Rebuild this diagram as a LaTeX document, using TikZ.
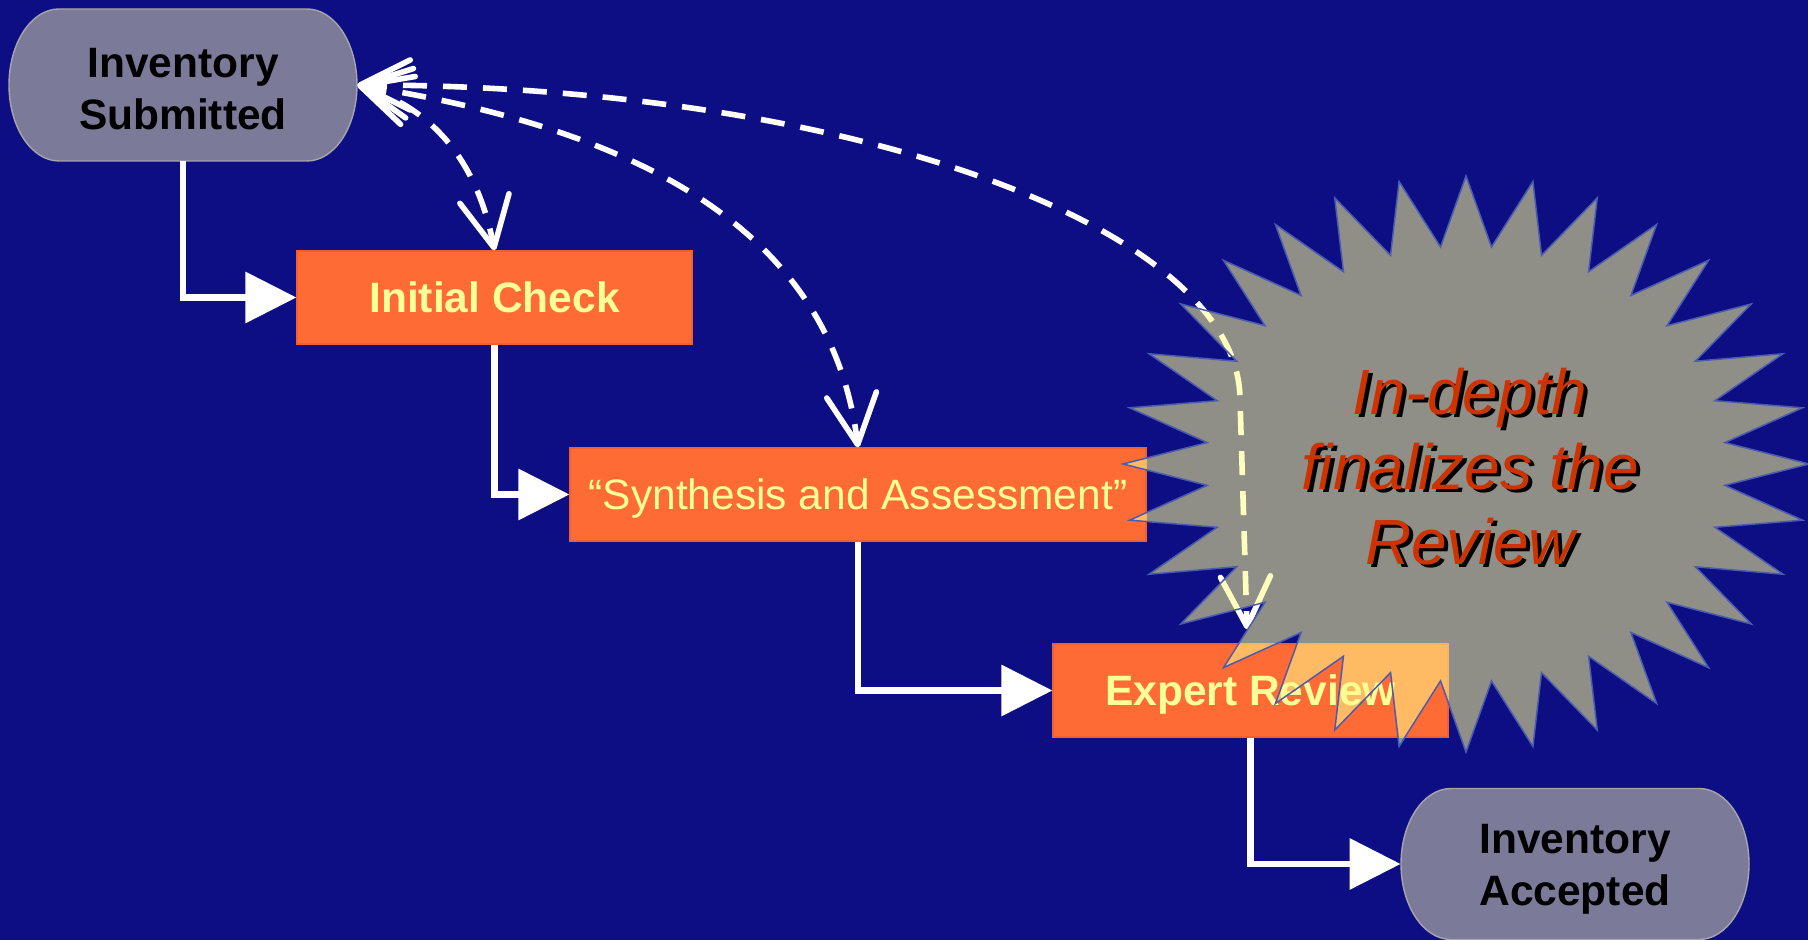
\documentclass[tikz,border=0pt]{standalone}
\usepackage{fontspec}
\setmainfont{Liberation Sans}
\usetikzlibrary{arrows.meta}
\definecolor{bgnavy}{RGB}{13,14,132}
\definecolor{stadfill}{RGB}{123,123,153}
\definecolor{stadedge}{RGB}{165,165,170}
\definecolor{boxorange}{RGB}{255,107,53}
\definecolor{boxedge}{RGB}{240,95,45}
\definecolor{ltyellow}{RGB}{255,255,153}
\definecolor{starfill}{RGB}{255,255,139}
\definecolor{starline}{RGB}{75,92,175}
\definecolor{startext}{RGB}{204,51,0}
\begin{document}
\begin{tikzpicture}[x=0.5pt,y=0.5pt]
\tikzset{
  stadnode/.style={minimum width=174pt, minimum height=76pt, inner sep=0pt},
  stadlabel/.style={inner sep=0pt, align=center,
    font=\fontsize{21.25}{26}\selectfont\bfseries, text=black},
  stadshape/.style={fill=stadfill, draw=stadedge, line width=0.7pt},
  stepbox/.style={fill=boxorange, draw=boxedge, line width=0.6pt, minimum width=#1,
    minimum height=46.5pt, inner sep=0pt, text=ltyellow, text height=15.2pt, text depth=0pt},
  boldlab/.style={font=\fontsize{21.25}{26}\selectfont\bfseries},
  plainlab/.style={font=\fontsize{21.25}{26}\selectfont},
  conn/.style={draw=white, line width=3.25pt, -{Triangle[length=25.5pt,width=25pt]}},
  dasharrow/.style={draw=white, line width=2.8pt, dash pattern=on 12pt off 8pt,
    {Straight Barb[length=25pt,width=25pt,round]}-{Straight Barb[length=25pt,width=25pt,round]}},
  startxt/.style={align=center, font=\fontsize{32}{37.5}\selectfont\itshape, inner sep=0pt},
}
\useasboundingbox (0,0) rectangle (1808,940);
\fill[bgnavy] (0,0) rectangle (1808,940);

% stadium shapes
\path[stadshape, shift={(183,855)}] (-124,76) -- (124,76)
  arc[start angle=90,end angle=-90,x radius=25pt,y radius=38pt] -- (-124,-76)
  arc[start angle=270,end angle=90,x radius=25pt,y radius=38pt] -- cycle;
\path[stadshape, shift={(1575,76)}] (-124,75.5) -- (124,75.5)
  arc[start angle=90,end angle=-90,x radius=25pt,y radius=37.75pt] -- (-124,-75.5)
  arc[start angle=270,end angle=90,x radius=25pt,y radius=37.75pt] -- cycle;

\node[stadnode] (sub) at (183,855) {};
\node[stadnode, minimum height=75.5pt] (acc) at (1575,76) {};
\node[stadlabel] (sublabel) at (183,851) {Inventory\\Submitted};
\node[stadlabel] (acclabel) at (1575,71) {Inventory\\Accepted};

% process boxes
\node[stepbox=197.5pt, boldlab] (ic) at (494.5,642.5) {Initial Check};
\node[stepbox=288pt, plainlab] (syn) at (858,445.5) {“Synthesis and Assessment”};
\node[stepbox=197.5pt, boldlab] (exp) at (1250.5,249.5) {Expert Review};

% flow connectors
\draw[conn] (sub.south) |- (ic.west);
\draw[conn] (ic.south) |- (syn.west);
\draw[conn] (syn.south) |- (exp.west);
\draw[conn] (exp.south) |- (acc.west);

% dashed feedback arrows
\coordinate (bend3) at (1240,540);
\draw[dasharrow] (sub.east) to[out=-17,in=101] (ic.north);
\draw[dasharrow] (sub.east) to[out=-9,in=97] (syn.north);
\draw[dasharrow, shorten >=7pt] (sub.east) .. controls (844,855) and (1240,714) .. (bend3) -- ([xshift=-1.5pt]exp.north);

% starburst
\path[fill=starfill, fill opacity=0.537, draw=starline, line width=0.75pt]
  (1466,764) \foreach \i in {1,...,63}{
    -- ({1466+ifthenelse(isodd(\i),260,343)*cos(90+5.625*\i)},{476+ifthenelse(isodd(\i),218,288)*sin(90+5.625*\i)})
  } -- cycle;

\node[startxt, text=black] (starshadow) at ([shift={(2pt,-1.5pt)}]1470,473) {In-depth\\finalizes the\\Review};
\node[startxt, text=startext] (startitle) at (1470,473) {In-depth\\finalizes the\\Review};
\end{tikzpicture}
\end{document}
